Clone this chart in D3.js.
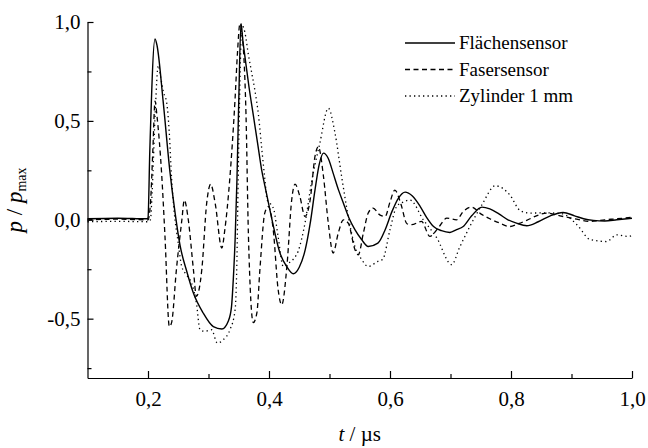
<!DOCTYPE html>
<html>
<head>
<meta charset="utf-8">
<script src="https://cdn.jsdelivr.net/npm/d3@7"></script>
<style>
  body { margin: 0; background: #fff; }
  svg text { font-family: "Liberation Serif", "Times New Roman", Times, serif; fill: #000; }
</style>
</head>
<body>
<div id="chart"></div>
<script>
// Flächensensor (solid)
const tFlaeche = [0.1, 0.15, 0.198, 0.2, 0.203, 0.2116, 0.215, 0.225, 0.236, 0.245, 0.253, 0.264, 0.275, 0.291, 0.308, 0.322, 0.333, 0.338, 0.341, 0.344, 0.347, 0.350, 0.3537, 0.357, 0.36, 0.367, 0.374, 0.381, 0.388, 0.394, 0.405, 0.418, 0.43, 0.44, 0.45, 0.46, 0.468, 0.476, 0.483, 0.49, 0.498, 0.506, 0.515, 0.523, 0.532, 0.542, 0.553, 0.564, 0.58, 0.592, 0.603, 0.614, 0.625, 0.637, 0.65, 0.661, 0.672, 0.685, 0.699, 0.71, 0.721, 0.735, 0.752, 0.765, 0.78, 0.795, 0.809, 0.826, 0.845, 0.865, 0.886, 0.905, 0.92, 0.936, 0.955, 0.975, 1.0];
const pFlaeche = [0.005, 0.008, 0.005, 0.01, 0.35, 0.914, 0.88, 0.6, 0.25, 0.03, -0.13, -0.26, -0.37, -0.47, -0.54, -0.552, -0.51, -0.44, -0.3, -0.1, 0.2, 0.6, 0.993, 0.9, 0.83, 0.67, 0.53, 0.39, 0.25, 0.16, 0.0, -0.167, -0.24, -0.273, -0.24, -0.15, -0.02, 0.15, 0.28, 0.337, 0.31, 0.236, 0.15, 0.084, 0.01, -0.05, -0.1, -0.135, -0.118, -0.05, 0.04, 0.11, 0.14, 0.12, 0.067, 0.01, -0.034, -0.055, -0.064, -0.05, -0.034, 0.02, 0.064, 0.055, 0.03, 0.0, -0.017, -0.03, -0.01, 0.02, 0.037, 0.02, 0.005, -0.003, -0.006, 0.0, 0.008];

// Fasersensor (dashed)
const tFaser = [0.1, 0.15, 0.2, 0.204, 0.208, 0.2116, 0.215, 0.2226, 0.228, 0.2353, 0.239, 0.247, 0.256, 0.26, 0.2666, 0.275, 0.28, 0.289, 0.297, 0.3036, 0.311, 0.322, 0.327, 0.335, 0.344, 0.348, 0.352, 0.3575, 0.362, 0.366, 0.374, 0.38, 0.385, 0.393, 0.399, 0.407, 0.415, 0.421, 0.43, 0.4375, 0.443, 0.451, 0.4595, 0.468, 0.476, 0.4815, 0.49, 0.498, 0.506, 0.5145, 0.523, 0.531, 0.542, 0.5476, 0.556, 0.564, 0.572, 0.583, 0.592, 0.6, 0.608, 0.618, 0.628, 0.636, 0.652, 0.666, 0.68, 0.694, 0.71, 0.721, 0.735, 0.75, 0.765, 0.78, 0.798, 0.812, 0.826, 0.842, 0.859, 0.881, 0.905, 0.931, 0.955, 0.975, 1.0];
const pFaser = [0.0, 0.003, 0.0, 0.08, 0.35, 0.6, 0.52, 0.23, -0.08, -0.54, -0.52, -0.25, 0.0, 0.1, 0.0, -0.25, -0.387, -0.25, 0.084, 0.18, 0.084, -0.143, -0.05, 0.2, 0.616, 0.85, 0.993, 0.87, 0.53, -0.08, -0.52, -0.47, -0.25, 0.034, 0.067, -0.05, -0.35, -0.43, -0.22, 0.1, 0.18, 0.118, 0.017, 0.1, 0.32, 0.37, 0.22, -0.017, -0.168, -0.067, 0.0, -0.017, -0.15, -0.177, -0.067, 0.034, 0.059, 0.025, 0.017, 0.09, 0.15, 0.08, -0.02, -0.025, -0.008, -0.084, -0.04, 0.008, 0.0, 0.042, 0.064, 0.03, 0.005, -0.015, -0.034, -0.02, -0.003, 0.02, 0.034, 0.02, 0.005, -0.008, 0.0, 0.005, 0.013];

// Zylinder 1 mm (dotted)
const tZylinder = [0.1, 0.15, 0.2, 0.204, 0.207, 0.212, 0.217, 0.221, 0.2253, 0.231, 0.235, 0.239, 0.243, 0.25, 0.2557, 0.264, 0.272, 0.28, 0.286, 0.294, 0.305, 0.3146, 0.3245, 0.3355, 0.344, 0.347, 0.349, 0.352, 0.355, 0.36, 0.366, 0.371, 0.377, 0.3826, 0.388, 0.393, 0.397, 0.4017, 0.408, 0.415, 0.4236, 0.432, 0.44, 0.448, 0.4595, 0.47, 0.484, 0.498, 0.509, 0.52, 0.531, 0.542, 0.553, 0.564, 0.58, 0.588, 0.6, 0.611, 0.622, 0.633, 0.655, 0.677, 0.702, 0.715, 0.732, 0.752, 0.774, 0.798, 0.815, 0.831, 0.86, 0.885, 0.909, 0.931, 0.958, 0.975, 0.993, 1.0];
const pZylinder = [-0.01, -0.008, -0.01, 0.0, 0.15, 0.55, 0.78, 0.72, 0.648, 0.59, 0.45, 0.21, 0.05, -0.118, -0.236, -0.28, -0.32, -0.42, -0.556, -0.564, -0.556, -0.623, -0.606, -0.556, -0.455, -0.2, 0.2, 0.7, 0.985, 0.95, 0.833, 0.75, 0.648, 0.53, 0.36, 0.21, 0.1, 0.084, 0.05, -0.084, -0.236, -0.22, -0.2, -0.16, -0.017, 0.185, 0.387, 0.564, 0.44, 0.22, 0.017, -0.135, -0.2, -0.236, -0.21, -0.2, -0.05, 0.067, 0.09, 0.1, 0.0, -0.09, -0.227, -0.14, -0.034, 0.076, 0.172, 0.126, 0.047, 0.034, 0.035, 0.03, -0.025, -0.1, -0.11, -0.076, -0.084, -0.08];

const xTicks = [0.2, 0.4, 0.6, 0.8, 1.0];
const xMinor = [0.3, 0.5, 0.7, 0.9];
const yTicks = [-0.5, 0.0, 0.5, 1.0];
const yMinor = [-0.75, -0.25, 0.25, 0.75];
const legendLabels = ['Flächensensor', 'Fasersensor', 'Zylinder 1 mm'];

const width = 648;
const height = 448;
const margin = { top: 22, right: 16, bottom: 70, left: 87.5 };

const svg = d3.select('#chart')
  .append('svg')
  .attr('width', width)
  .attr('height', height);

const x = d3.scaleLinear()
  .domain([0.1, 1.0])
  .range([margin.left, width - margin.right]);

const y = d3.scaleLinear()
  .domain([-0.8, 1.0])
  .range([height - margin.bottom, margin.top]);

const fmt = d => d.toFixed(1).replace('.', ',');

// minor ticks first, then the main axes on top
svg.append('g')
  .attr('transform', `translate(0,${height - margin.bottom})`)
  .call(d3.axisBottom(x).tickValues(xMinor).tickSizeInner(-4).tickSizeOuter(0).tickFormat(''))
  .call(g => g.select('.domain').remove());

svg.append('g')
  .attr('transform', `translate(${margin.left},0)`)
  .call(d3.axisLeft(y).tickValues(yMinor).tickSizeInner(-4).tickSizeOuter(0).tickFormat(''))
  .call(g => g.select('.domain').remove());

function xAxis(g) {
  g.attr('transform', `translate(0,${height - margin.bottom})`)
    .call(d3.axisBottom(x).tickValues(xTicks).tickSizeInner(-7).tickSizeOuter(0).tickPadding(13).tickFormat(fmt))
    .attr('font-family', null)
    .attr('font-size', '21px');
}

function yAxis(g) {
  g.attr('transform', `translate(${margin.left},0)`)
    .call(d3.axisLeft(y).tickValues(yTicks).tickSizeInner(-6).tickSizeOuter(0).tickPadding(7).tickFormat(fmt))
    .attr('font-family', null)
    .attr('font-size', '21px');
}

svg.append('g').call(xAxis);
svg.append('g').call(yAxis);
svg.selectAll('.domain, .tick line').attr('stroke', '#000').attr('stroke-width', 1.2);

// series
const series = [
  { t: tFlaeche, p: pFlaeche, dash: null, w: 1.4 },
  { t: tFaser, p: pFaser, dash: '5,3.5', w: 1.3 },
  { t: tZylinder, p: pZylinder, dash: '1.3,3.2', w: 1.3 },
];

const line = d3.line()
  .x(d => x(d[0]))
  .y(d => y(d[1]))
  .curve(d3.curveMonotoneX);

series.forEach(s => {
  svg.append('path')
    .datum(d3.zip(s.t, s.p))
    .attr('fill', 'none')
    .attr('stroke', '#000')
    .attr('stroke-width', s.w)
    .attr('stroke-dasharray', s.dash)
    .attr('d', line);
});

// legend
const legend = svg.append('g').attr('font-size', '19px');
legendLabels.forEach((label, i) => {
  const ly = 43 + i * 26.5;
  legend.append('line')
    .attr('x1', 405).attr('x2', 455)
    .attr('y1', ly).attr('y2', ly)
    .attr('stroke', '#000')
    .attr('stroke-width', series[i].w)
    .attr('stroke-dasharray', series[i].dash);
  legend.append('text')
    .attr('x', 459)
    .attr('y', ly + 6)
    .text(label);
});

// axis titles
svg.append('text')
  .attr('x', (margin.left + width - margin.right) / 2)
  .attr('y', 441)
  .attr('text-anchor', 'middle')
  .attr('font-size', '21px')
  .call(t => {
    t.append('tspan').attr('font-style', 'italic').text('t');
    t.append('tspan').text(' / µs');
  });

svg.append('text')
  .attr('transform', `translate(22,${(margin.top + height - margin.bottom) / 2}) rotate(-90)`)
  .attr('text-anchor', 'middle')
  .attr('font-size', '23px')
  .call(t => {
    t.append('tspan').attr('font-style', 'italic').text('p');
    t.append('tspan').text(' / ');
    t.append('tspan').attr('font-style', 'italic').text('p');
    t.append('tspan').attr('font-size', '14px').attr('dy', 4).text('max');
  });
</script>
</body>
</html>
